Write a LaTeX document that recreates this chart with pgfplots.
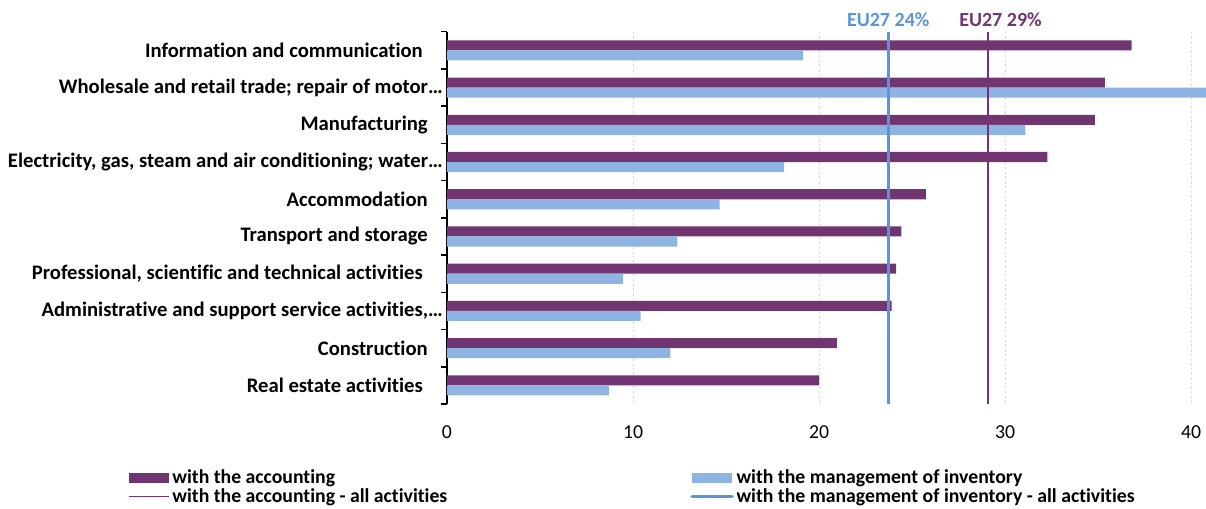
\documentclass[border=0pt]{standalone}
\usepackage{pgfplots}
\pgfplotsset{compat=1.18}
\usepackage{fontspec}
\setmainfont{Carlito}[Ligatures=NoCommon]
\definecolor{purp}{RGB}{113,54,113}
\definecolor{lblue}{RGB}{141,180,226}
\definecolor{dblue}{RGB}{88,150,220}
\definecolor{gridc}{RGB}{222,222,222}
\newcommand\fs{\fontsize{15.5pt}{18pt}\selectfont}
\newcommand\fl{\fontsize{14.8pt}{17pt}\selectfont}
\newcommand\fe{\fontsize{15pt}{17pt}\selectfont}
\begin{document}
\begin{tikzpicture}
\begin{axis}[
  scale only axis,
  width=569.25pt, height=279.2pt,
  xmin=0, xmax=40.8,
  ymin=-0.5, ymax=9.5,
  y dir=reverse,
  clip mode=individual,
  separate axis lines,
  axis y line*=left,
  axis x line*=bottom,
  y axis line style={black, line width=1.1pt},
  x axis line style={draw=none},
  xtick={0,10,20,30,40},
  xticklabels={0,10,20,30,40},
  ytick={0,1,2,3,4,5,6,7,8,9},
  yticklabels={
    {Information and communication\rule{15pt}{0pt}},
    {Wholesale and retail trade; repair of motor…},
    {Manufacturing\rule{11.25pt}{0pt}},
    {Electricity, gas, steam and air conditioning; water…},
    {Accommodation\rule{11.25pt}{0pt}},
    {Transport and storage\rule{11.25pt}{0pt}},
    {Professional, scientific and technical activities\rule{15pt}{0pt}},
    {Administrative and support service activities,…},
    {Construction\rule{11.25pt}{0pt}},
    {Real estate activities\rule{15pt}{0pt}}},
  minor ytick={-0.5,0.5,...,9.5},
  major tick length=0pt,
  minor tick length=4.5pt,
  tick align=outside,
  minor y tick style={black, line width=1.1pt},
  yticklabel style={font=\fs\bfseries, anchor=east, inner sep=0pt, xshift=-3pt},
  xticklabel style={font=\fl, anchor=base, yshift=-25.7pt},
  legend columns=2,
  legend style={at={(-0.4203,-0.1746)}, anchor=north west, draw=none, fill=none,
    inner sep=0pt, font=\fl\bfseries, nodes={inner sep=0.5pt},
    /tikz/column sep=1.5pt, /tikz/row sep=1pt, cells={anchor=west}},
]
% gridlines
\addplot[gridc, dash pattern=on 2pt off 1.5pt, line width=0.75pt, forget plot] coordinates {(10,-0.5) (10,9.5)};
\addplot[gridc, dash pattern=on 2pt off 1.5pt, line width=0.75pt, forget plot] coordinates {(20,-0.5) (20,9.5)};
\addplot[gridc, dash pattern=on 2pt off 1.5pt, line width=0.75pt, forget plot] coordinates {(30,-0.5) (30,9.5)};
\addplot[gridc, dash pattern=on 2pt off 1.5pt, line width=0.75pt, forget plot] coordinates {(40,-0.5) (40,9.5)};
\addplot[xbar, bar width=0.27, bar shift=-0.135, fill=purp, draw=none,
  legend image code/.code={\fill[purp] (0pt,-4pt) rectangle (30pt,4pt);}]
  coordinates {(36.8,0) (35.37,1) (34.82,2) (32.27,3) (25.74,4) (24.43,5) (24.14,6) (23.9,7) (20.96,8) (20.01,9)};
\addlegendentry{\makebox[386.5pt][l]{with the accounting}}
\addplot[xbar, bar width=0.27, bar shift=0.135, fill=lblue, draw=none,
  legend image code/.code={\fill[lblue] (0pt,-4pt) rectangle (30pt,4pt);}]
  coordinates {(19.14,0) (41.5,1) (31.09,2) (18.12,3) (14.65,4) (12.38,5) (9.46,6) (10.41,7) (12.01,8) (8.7,9)};
\addlegendentry{with the management of inventory}
\addplot[sharp plot, purp, line width=1.1pt, mark=none,
  legend image code/.code={\draw[purp, line width=1.1pt] (0pt,0pt) -- (30pt,0pt);}]
  coordinates {(29.08,-0.5) (29.08,9.5)};
\addlegendentry{\makebox[386.5pt][l]{with the accounting - all activities}}
\addplot[sharp plot, dblue, line width=2.6pt, mark=none,
  legend image code/.code={\draw[dblue, line width=2.6pt, line cap=round] (0pt,0pt) -- (30pt,0pt);}]
  coordinates {(23.72,-0.5) (23.72,9.5)};
\addlegendentry{with the management of inventory - all activities}
\node[font=\fe\bfseries, text=dblue, anchor=center, yshift=9.3pt] at (axis cs:23.72,-0.5) {EU27 24\%};
\node[font=\fe\bfseries, text=purp, anchor=center, yshift=9.3pt, xshift=9.4pt] at (axis cs:29.08,-0.5) {EU27 29\%};
\end{axis}
\pgfresetboundingbox
\path[use as bounding box] (-335.25pt,-78pt) rectangle (569.25pt,303pt);
\end{tikzpicture}
\end{document}
